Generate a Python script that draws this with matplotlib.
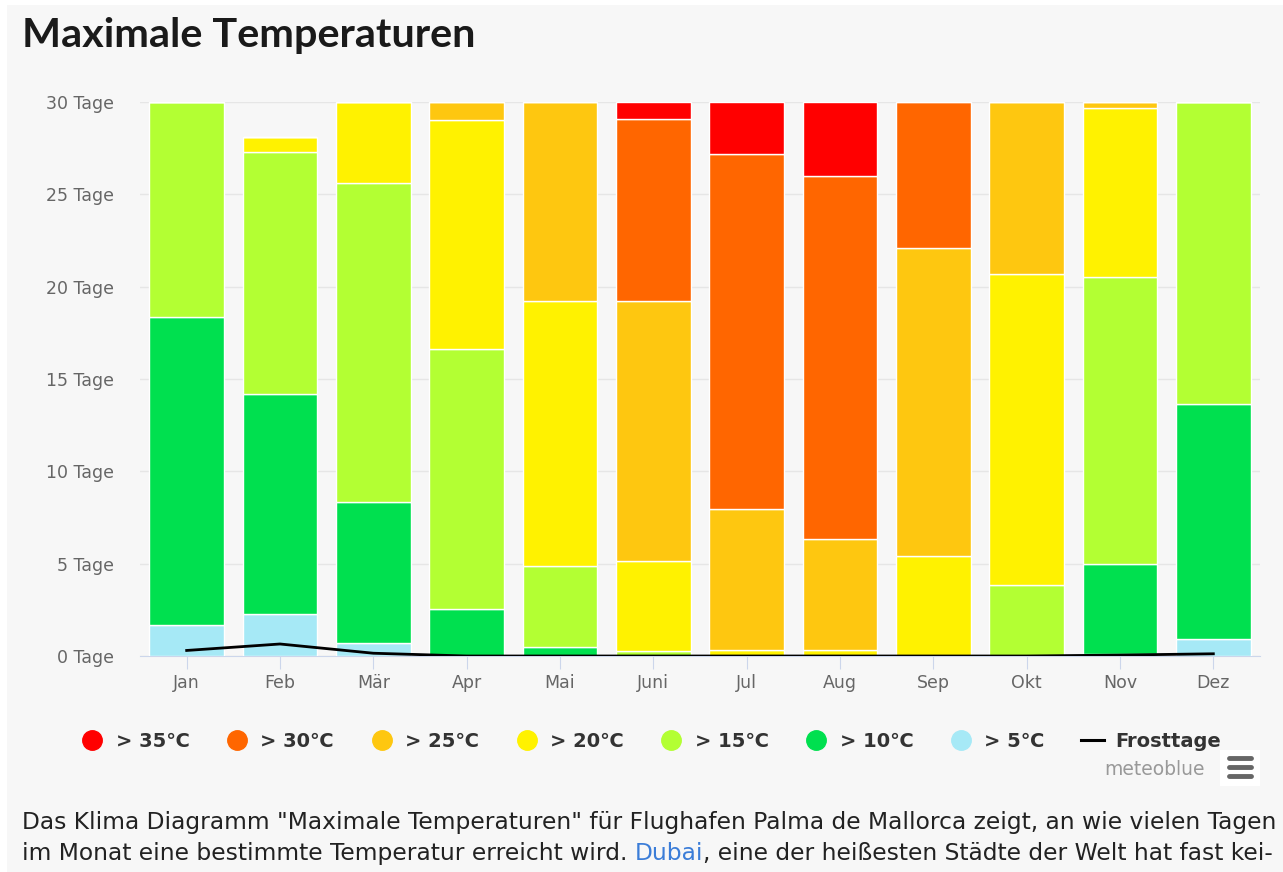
import numpy as np
import matplotlib.pyplot as plt
from matplotlib.lines import Line2D
from matplotlib.patches import Rectangle

# days per month reaching a given maximum temperature (stack pieces)
months = ['Jan', 'Feb', 'Mär', 'Apr', 'Mai', 'Juni', 'Jul', 'Aug', 'Sep', 'Okt', 'Nov', 'Dez']
gt5 = [1.7, 2.3, 0.7, 0.0, 0.0, 0.0, 0.0, 0.0, 0.0, 0.0, 0.1, 0.9]
gt10 = [16.65, 11.9, 7.65, 2.55, 0.5, 0.0, 0.0, 0.0, 0.0, 0.0, 4.9, 12.75]
gt15 = [11.65, 13.1, 17.25, 14.05, 4.35, 0.25, 0.0, 0.0, 0.0, 3.85, 15.5, 16.35]
gt20 = [0.0, 0.8, 4.4, 12.45, 14.35, 4.9, 0.3, 0.3, 5.4, 16.85, 9.15, 0.0]
gt25 = [0.0, 0.0, 0.0, 0.95, 10.8, 14.05, 7.65, 6.05, 16.7, 9.3, 0.35, 0.0]
gt30 = [0.0, 0.0, 0.0, 0.0, 0.0, 9.9, 19.25, 19.65, 7.9, 0.0, 0.0, 0.0]
gt35 = [0.0, 0.0, 0.0, 0.0, 0.0, 0.9, 2.8, 4.0, 0.0, 0.0, 0.0, 0.0]
frost = [0.3, 0.65, 0.15, 0.0, 0.0, 0.0, 0.0, 0.0, 0.0, 0.0, 0.05, 0.12]
yticks = [0, 5, 10, 15, 20, 25, 30]

plt.rcParams['font.family'] = ['DejaVu Sans']

BG = '#f7f7f7'
fig = plt.figure(figsize=(12.83, 8.72), dpi=100, facecolor='white')
fig.patches.append(Rectangle((7 / 1283, 0), 1, 1 - 5 / 872, transform=fig.transFigure,
                             facecolor=BG, edgecolor='none', zorder=-10))

ax = fig.add_axes([140 / 1283, 216 / 872, 1120 / 1283, 554 / 872])
ax.set_facecolor(BG)

x = np.arange(len(months))
series = [
    (gt5, '#a6e9f6', '> 5℃'),
    (gt10, '#00e04f', '> 10℃'),
    (gt15, '#b3ff33', '> 15℃'),
    (gt20, '#fff200', '> 20℃'),
    (gt25, '#fec710', '> 25℃'),
    (gt30, '#ff6600', '> 30℃'),
    (gt35, '#ff0000', '> 35℃'),
]
bottom = np.zeros(len(months))
for vals, col, lab in series:
    v = np.array(vals)
    ax.bar(x, v, width=0.8, bottom=bottom, color=col, edgecolor='white',
           linewidth=1.0, zorder=2)
    bottom += v

ax.plot(x, frost, color='black', linewidth=2.0, zorder=3)

ax.set_xlim(-0.5, len(months) - 0.5)
ax.set_ylim(0, 30)
ax.set_yticks(yticks)
ax.set_yticklabels(['{} Tage'.format(t) for t in yticks])
ax.set_xticks(x)
ax.set_xticklabels(months)
ax.grid(axis='y', color='#e6e6e6', linewidth=1.0, zorder=0)
for s in ['top', 'right', 'left']:
    ax.spines[s].set_visible(False)
ax.spines['bottom'].set_color('#ccd6eb')
ax.spines['bottom'].set_zorder(1)
ax.tick_params(axis='y', length=0, pad=18.5, labelsize=12.5, labelcolor='#666666')
ax.tick_params(axis='x', length=9, color='#ccd6eb', pad=4, labelsize=12.5,
               labelcolor='#666666')

fig.text(22 / 1283, 1 - 35 / 872, 'Maximale Temperaturen', fontsize=29.8,
         fontweight='bold', color='#1a1a1a', va='center', ha='left',
         family=['Lato', 'DejaVu Sans'])

# legend
handles = []
for vals, col, lab in reversed(series):
    handles.append(Line2D([], [], marker='o', linestyle='none', markersize=14,
                          markerfacecolor=col, markeredgecolor=col, label=lab))
handles.append(Line2D([], [], color='black', linewidth=2.2, label='Frosttage'))
leg = fig.legend(handles=handles, loc='center', ncol=8,
                 bbox_to_anchor=(651 / 1283, 1 - 741 / 872), frameon=False,
                 handlelength=1.2, handletextpad=0.6, columnspacing=1.85,
                 borderpad=0, prop={'size': 14, 'weight': 'bold'})
for t in leg.get_texts():
    t.set_color('#333333')

fig.text(1205 / 1283, 1 - 769 / 872, 'meteoblue', fontsize=13.5, color='#999999',
         ha='right', va='center')
fig.patches.append(Rectangle((1220 / 1283, 1 - 786 / 872), 40 / 1283, 36 / 872,
                             transform=fig.transFigure, facecolor='white',
                             edgecolor='none'))
for yy in [758, 767, 776]:
    fig.lines.append(Line2D([1229 / 1283, 1251 / 1283], [1 - yy / 872, 1 - yy / 872],
                            transform=fig.transFigure, color='#666666',
                            linewidth=3.5, solid_capstyle='round'))

# paragraph below the chart
fs = 16.8
fig.text(22 / 1283, 1 - 822 / 872,
         'Das Klima Diagramm "Maximale Temperaturen" für Flughafen Palma de Mallorca '
         'zeigt, an wie vielen Tagen', fontsize=fs, color='#222222', va='center')
renderer = fig.canvas.get_renderer()
y2 = 1 - 853 / 872
t1 = fig.text(22 / 1283, y2, 'im Monat eine bestimmte Temperatur erreicht wird. ',
              fontsize=fs, color='#222222', va='center')
bb = t1.get_window_extent(renderer)
t2 = fig.text(bb.x1 / 1283, y2, 'Dubai', fontsize=fs, color='#3b7dd8', va='center')
bb = t2.get_window_extent(renderer)
fig.text(bb.x1 / 1283, y2, ', eine der heißesten Städte der Welt hat fast kei-',
         fontsize=fs, color='#222222', va='center')

fig.savefig('out.png', dpi=100, facecolor=fig.get_facecolor())
